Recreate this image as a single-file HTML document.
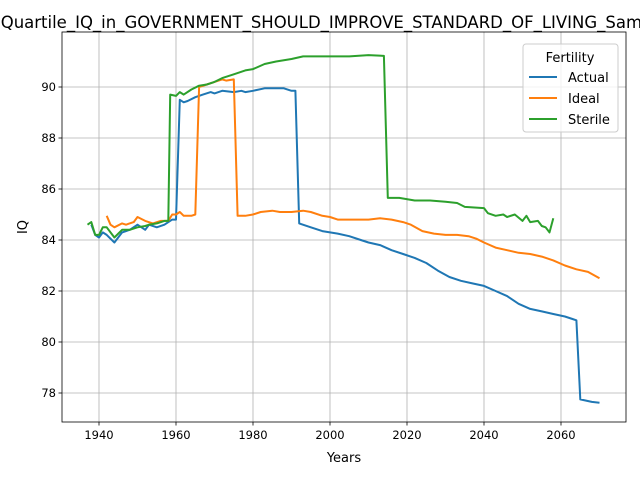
<!DOCTYPE html>
<html><head><meta charset="utf-8"><style>body{margin:0;background:#fff}svg{display:block;font-family:"DejaVu Sans","Liberation Sans",sans-serif}</style></head>
<body>
<svg id="chart" width="640" height="480" viewBox="0 0 640 480">
<text x="334" y="28" text-anchor="middle" font-size="16.5" fill="#000">Quartile_IQ_in_GOVERNMENT_SHOULD_IMPROVE_STANDARD_OF_LIVING_Sample</text>
<g id="grid"></g><g id="series"></g><g id="axes"></g>
<text x="344" y="462" text-anchor="middle" font-size="13">Years</text>
<text x="27" y="227" text-anchor="middle" font-size="13" transform="rotate(-90 27 227)">IQ</text>
<g>
<rect x="523" y="44" width="95" height="88" rx="3" fill="#fff" fill-opacity="0.8" stroke="#ccc"/>
<text x="570" y="62" text-anchor="middle" font-size="13">Fertility</text>
<g><line x1="529" x2="557" y1="77" y2="77" stroke="#1f77b4" stroke-width="2"/><text x="568" y="82" font-size="13">Actual</text></g>
<g><line x1="529" x2="557" y1="98" y2="98" stroke="#ff7f0e" stroke-width="2"/><text x="568" y="103" font-size="13">Ideal</text></g>
<g><line x1="529" x2="557" y1="119" y2="119" stroke="#2ca02c" stroke-width="2"/><text x="568" y="124" font-size="13">Sterile</text></g>
</g>
</svg>
<script>
const xTicks=[1940,1960,1980,2000,2020,2040,2060];
const yTicks=[78,80,82,84,86,88,90];
const actualYears=[1938,1939,1940,1941,1942,1944,1946,1948,1950,1952,1953,1955,1957,1959,1960,1961,1962,1963,1965,1967,1969,1970,1972,1975,1977,1978,1980,1983,1985,1988,1990,1991,1992,1995,1998,2000,2002,2005,2008,2010,2013,2016,2019,2022,2025,2028,2031,2034,2037,2040,2043,2046,2049,2052,2055,2058,2061,2063,2064,2065,2068,2070];
const actualValues=[84.6,84.2,84.1,84.3,84.2,83.9,84.3,84.4,84.6,84.4,84.6,84.5,84.6,84.8,84.8,89.5,89.4,89.45,89.6,89.7,89.8,89.75,89.85,89.8,89.85,89.8,89.85,89.95,89.95,89.95,89.85,89.85,84.65,84.5,84.35,84.3,84.25,84.15,84.0,83.9,83.8,83.6,83.45,83.3,83.1,82.8,82.55,82.4,82.3,82.2,82.0,81.8,81.5,81.3,81.2,81.1,81.0,80.9,80.85,77.75,77.65,77.62];
const idealYears=[1942,1943,1944,1946,1947,1949,1950,1952,1954,1956,1958,1959,1960,1961,1962,1964,1965,1966,1968,1970,1972,1973,1975,1976,1978,1980,1982,1985,1987,1990,1993,1995,1998,2000,2002,2005,2008,2010,2013,2016,2019,2021,2024,2027,2030,2033,2036,2038,2040,2043,2046,2049,2052,2055,2058,2061,2064,2067,2070];
const idealValues=[84.95,84.6,84.5,84.65,84.6,84.7,84.9,84.75,84.65,84.75,84.75,85.0,85.0,85.1,84.95,84.95,85.0,90.0,90.1,90.2,90.3,90.25,90.3,84.95,84.95,85.0,85.1,85.15,85.1,85.1,85.15,85.1,84.95,84.9,84.8,84.8,84.8,84.8,84.85,84.8,84.7,84.6,84.35,84.25,84.2,84.2,84.15,84.05,83.9,83.7,83.6,83.5,83.45,83.35,83.2,83.0,82.85,82.75,82.5];
const sterileYears=[1937,1938,1939,1940,1941,1942,1944,1946,1948,1950,1952,1953,1955,1957,1958,1958.5,1960,1961,1962,1964,1966,1968,1970,1972,1975,1978,1980,1983,1986,1990,1993,1996,2000,2005,2010,2014,2015,2018,2022,2026,2030,2033,2035,2040,2041,2043,2045,2046,2048,2050,2051,2052,2054,2055,2056,2057,2058];
const sterileValues=[84.6,84.7,84.2,84.2,84.5,84.5,84.1,84.4,84.4,84.5,84.55,84.6,84.65,84.75,84.75,89.7,89.65,89.8,89.7,89.9,90.05,90.1,90.2,90.35,90.5,90.65,90.7,90.9,91.0,91.1,91.2,91.2,91.2,91.2,91.25,91.22,85.65,85.65,85.55,85.55,85.5,85.45,85.3,85.25,85.05,84.95,85.0,84.9,85.0,84.75,84.95,84.7,84.75,84.55,84.5,84.3,84.85];
const L=62,R=626,T=32,B=422;
const xs=y=>99+(y-1940)*(561-99)/120;
const ys=v=>393-(v-78)*25.5;
const NS='http://www.w3.org/2000/svg';
function mk(tag,attrs,parent){const e=document.createElementNS(NS,tag);for(const k in attrs)e.setAttribute(k,attrs[k]);parent.appendChild(e);return e;}
const grid=document.getElementById('grid'),axes=document.getElementById('axes'),series=document.getElementById('series');
xTicks.forEach(t=>{const x=xs(t);
const g=mk('line',{x1:x,x2:x,y1:T,y2:B,stroke:'#b0b0b0','stroke-width':0.8},grid);


mk('line',{x1:x,x2:x,y1:B,y2:B+3.5,stroke:'#000','stroke-width':0.8},axes);
const tx=mk('text',{x:x,y:B+17,'text-anchor':'middle','font-size':11.5},axes);tx.textContent=t;

});
yTicks.forEach(t=>{const y=ys(t);
const g=mk('line',{x1:L,x2:R,y1:y,y2:y,stroke:'#b0b0b0','stroke-width':0.8},grid);


mk('line',{x1:L-3.5,x2:L,y1:y,y2:y,stroke:'#000','stroke-width':0.8},axes);
const tx=mk('text',{x:L-6,y:y+4,'text-anchor':'end','font-size':11.5},axes);tx.textContent=t;

});
const frame=mk('rect',{x:L,y:T,width:R-L,height:B-T,fill:'none',stroke:'#000','stroke-width':0.8},axes);


[[actualYears,actualValues,'#1f77b4','line-actual'],[idealYears,idealValues,'#ff7f0e','line-ideal'],[sterileYears,sterileValues,'#2ca02c','line-sterile']].forEach(([yr,v,c,n])=>{
const p=mk('polyline',{points:yr.map((y,i)=>xs(y).toFixed(1)+','+ys(v[i]).toFixed(1)).join(' '),fill:'none',stroke:c,'stroke-width':2,'stroke-linejoin':'round'},series);

});
</script>
</body></html>
